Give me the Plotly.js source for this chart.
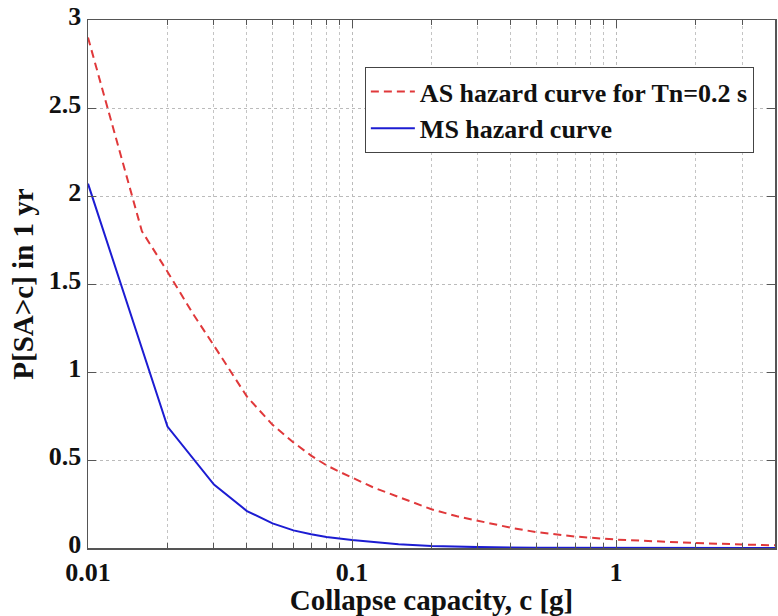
<!DOCTYPE html>
<html>
<head>
<meta charset="utf-8">
<script src="https://cdn.plot.ly/plotly-3.0.1.min.js"></script>
<style>html,body{margin:0;padding:0;background:#fff;}#chart{width:778px;height:616px;}</style>
</head>
<body>
<div id="chart"></div>
<script>
// AS hazard curve (Tn = 0.2 s)
var asCapacity = [0.01, 0.016, 0.02, 0.025, 0.03, 0.04, 0.05, 0.06, 0.07, 0.08, 0.09, 0.1, 0.12, 0.15, 0.2, 0.25, 0.3, 0.4, 0.5, 0.7, 1, 1.5, 2, 3, 4];
var asHazard   = [2.9, 1.8, 1.57, 1.33, 1.15, 0.86, 0.7, 0.6, 0.525, 0.47, 0.432, 0.40, 0.345, 0.29, 0.22, 0.18, 0.155, 0.115, 0.09, 0.065, 0.048, 0.035, 0.028, 0.02, 0.015];
// MS hazard curve
var msCapacity = [0.01, 0.02, 0.03, 0.04, 0.05, 0.06, 0.07, 0.08, 0.1, 0.15, 0.2, 0.3, 0.5, 1, 2, 4];
var msHazard   = [2.07, 0.69, 0.36, 0.21, 0.14, 0.1, 0.078, 0.062, 0.045, 0.022, 0.012, 0.005, 0.002, 0.0005, 0.0001, 0];
var xTickVals = [0.01, 0.1, 1, 4];
var xTickText = ['0.01', '0.1', '1', '4'];
var xMinorVals = [0.02, 0.03, 0.04, 0.05, 0.06, 0.07, 0.08, 0.09, 0.2, 0.3, 0.4, 0.5, 0.6, 0.7, 0.8, 0.9, 2, 3];
var yTickVals = [0, 0.5, 1, 1.5, 2, 2.5, 3];
var yTickText = ['0', '0.5', '1', '1.5', '2', '2.5', '3'];

var fontFam = 'Liberation Serif, Times New Roman, serif';
var traces = [
  {x: asCapacity, y: asHazard, mode: 'lines', name: 'AS hazard curve for Tn=0.2 s',
   line: {color: '#e0383a', width: 2, dash: '8px,5px'}},
  {x: msCapacity, y: msHazard, mode: 'lines', name: 'MS hazard curve',
   line: {color: '#1c1cd2', width: 2}}
];
var layout = {
  width: 778, height: 616,
  margin: {l: 88, r: 3, t: 20, b: 68},
  paper_bgcolor: '#fff', plot_bgcolor: '#fff',
  font: {family: fontFam, size: 26, color: '#111', weight: 'bold'},
  showlegend: true,
  legend: {x: 0.403, y: 0.911, xanchor: 'left', yanchor: 'top',
           bgcolor: '#fff', bordercolor: '#444', borderwidth: 1,
           font: {family: fontFam, size: 26, color: '#111', weight: 'bold'},
           tracegroupgap: 0, itemwidth: 44},
  xaxis: {type: 'log', range: [Math.log10(0.01), Math.log10(4)],
          tickvals: xTickVals, ticktext: xTickText,
          ticks: 'inside', ticklen: 8, tickcolor: '#555', mirror: 'ticks',
          showline: true, linecolor: '#555', linewidth: 1.5,
          showgrid: true, gridcolor: '#bbb', griddash: 'dot', gridwidth: 1,
          zeroline: false, ticklabelstandoff: 0,
          minor: {tickvals: xMinorVals, ticks: 'inside', ticklen: 5, tickcolor: '#555', showgrid: true,
                  gridcolor: '#c4c4c4', griddash: 'dot', gridwidth: 1},
          title: {text: 'Collapse capacity, c [g]', standoff: 4,
                  font: {family: fontFam, size: 29, color: '#111', weight: 'bold'}},
          tickfont: {family: fontFam, size: 26, color: '#111', weight: 'bold'}},
  yaxis: {range: [0, 3], tickvals: yTickVals, ticktext: yTickText,
          ticks: 'inside', ticklen: 8, tickcolor: '#555', mirror: 'ticks',
          showline: true, linecolor: '#555', linewidth: 1.5,
          showgrid: true, gridcolor: '#bbb', griddash: 'dot', gridwidth: 1,
          zeroline: false, ticklabelshift: -4,
          title: {text: 'P[SA>c] in 1 yr', standoff: 6,
                  font: {family: fontFam, size: 29, color: '#111', weight: 'bold'}},
          tickfont: {family: fontFam, size: 26, color: '#111', weight: 'bold'}}
};
Plotly.newPlot('chart', traces, layout, {displayModeBar: false, staticPlot: true});
</script>
</body>
</html>
